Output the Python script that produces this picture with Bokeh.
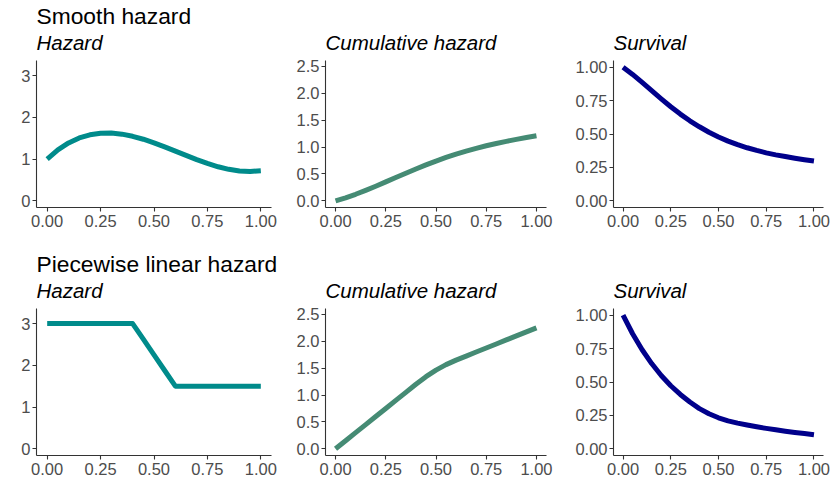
from bokeh.plotting import figure
from bokeh.layouts import row, column
from bokeh.models import Range1d, FixedTicker, Title, PrintfTickFormatter
from bokeh.embed import file_html
from bokeh.resources import INLINE

# ---- data ----
time = [0.00, 0.05, 0.10, 0.15, 0.20, 0.25, 0.30, 0.35, 0.40, 0.45, 0.50,
        0.55, 0.60, 0.65, 0.70, 0.75, 0.80, 0.85, 0.90, 0.95, 1.00]

smooth_hazard = [1.000, 1.220, 1.387, 1.506, 1.581, 1.619, 1.622, 1.596, 1.545, 1.475, 1.389,
                 1.292, 1.190, 1.087, 0.987, 0.895, 0.815, 0.754, 0.714, 0.701, 0.720]
smooth_cumhaz = [0.000, 0.056, 0.121, 0.194, 0.271, 0.351, 0.432, 0.513, 0.591, 0.667, 0.739,
                 0.806, 0.868, 0.925, 0.976, 1.023, 1.066, 1.105, 1.142, 1.177, 1.210]
smooth_survival = [1.000, 0.946, 0.886, 0.824, 0.763, 0.704, 0.649, 0.599, 0.554, 0.513, 0.478,
                   0.447, 0.420, 0.397, 0.377, 0.359, 0.344, 0.331, 0.319, 0.308, 0.298]

pw_hazard = [3.0, 3.0, 3.0, 3.0, 3.0, 3.0, 3.0, 3.0, 3.0, 2.625, 2.25,
             1.875, 1.5, 1.5, 1.5, 1.5, 1.5, 1.5, 1.5, 1.5, 1.5]
pw_cumhaz = [0.000, 0.150, 0.300, 0.450, 0.600, 0.750, 0.900, 1.050, 1.200, 1.341, 1.463,
             1.566, 1.650, 1.725, 1.800, 1.875, 1.950, 2.025, 2.100, 2.175, 2.250]
pw_survival = [1.000, 0.861, 0.741, 0.638, 0.549, 0.472, 0.407, 0.350, 0.301, 0.262, 0.232,
               0.209, 0.192, 0.178, 0.165, 0.153, 0.142, 0.132, 0.1225, 0.114, 0.105]

row_titles = ["Smooth hazard", "Piecewise linear hazard"]
panel_titles = ["Hazard", "Cumulative hazard", "Survival"]

x_ticks = [0.0, 0.25, 0.5, 0.75, 1.0]
hazard_ticks = [0, 1, 2, 3]
cumhaz_ticks = [0.0, 0.5, 1.0, 1.5, 2.0, 2.5]
surv_ticks = [0.0, 0.25, 0.5, 0.75, 1.0]

HAZ_COL = "#008B8B"
CUM_COL = "#458B74"
SURV_COL = "#00008B"
FONT = "Liberation Sans"

# column geometry: (width, border_left, border_right)
COLS = [(293, 36, 22), (275, 32, 22), (262, 45, 7)]
# row geometry: (height, border_top, border_bottom)
ROWS = [(241, 60, 34), (250, 67, 36)]


def style_axis(ax, ticks, fmt, is_y):
    ax.ticker = FixedTicker(ticks=ticks)
    ax.formatter = PrintfTickFormatter(format=fmt)
    ax.axis_line_color = "#333333"
    ax.axis_line_width = 1.1
    ax.major_tick_line_color = "#333333"
    ax.major_tick_line_width = 1.1
    ax.major_tick_out = 4
    ax.major_tick_in = 0
    ax.minor_tick_line_color = None
    ax.major_label_text_font = FONT
    ax.major_label_text_font_size = "16.5px"
    ax.major_label_text_color = "#4D4D4D"
    ax.major_label_standoff = 2 if is_y else 3


def panel(ci, ri, y, color, yrange, yticks, yfmt, title, row_title=None):
    w, bl, br = COLS[ci]
    h, bt, bb = ROWS[ri]
    p = figure(width=w, height=h, output_backend="svg", toolbar_location=None,
               x_range=Range1d(-0.05, 1.05), y_range=Range1d(*yrange),
               min_border_left=bl, min_border_right=br,
               min_border_top=bt, min_border_bottom=bb)
    p.outline_line_color = None
    p.xgrid.visible = False
    p.ygrid.visible = False
    p.background_fill_color = "white"
    p.border_fill_color = "white"
    p.line(time, y, color=color, line_width=5, line_join="round")
    style_axis(p.xaxis[0], x_ticks, "%.2f", False)
    style_axis(p.yaxis[0], yticks, yfmt, True)
    p.add_layout(Title(text=title, text_font=FONT, text_font_size="20.5px",
                       text_font_style="italic", text_color="black",
                       align="left", standoff=13), "above")
    if row_title is not None:
        p.add_layout(Title(text=row_title, text_font=FONT, text_font_size="22.8px",
                           text_font_style="normal", text_color="black",
                           align="left", standoff=-12), "above")
    return p


HAZ_RANGE = (-0.16, 3.36)
CUM_RANGE = (-0.125, 2.61)
SURV_RANGE = (-0.05, 1.05)

r1 = [
    panel(0, 0, smooth_hazard, HAZ_COL, HAZ_RANGE, hazard_ticks, "%d", panel_titles[0], row_titles[0]),
    panel(1, 0, smooth_cumhaz, CUM_COL, CUM_RANGE, cumhaz_ticks, "%.1f", panel_titles[1]),
    panel(2, 0, smooth_survival, SURV_COL, SURV_RANGE, surv_ticks, "%.2f", panel_titles[2]),
]
r2 = [
    panel(0, 1, pw_hazard, HAZ_COL, HAZ_RANGE, hazard_ticks, "%d", panel_titles[0], row_titles[1]),
    panel(1, 1, pw_cumhaz, CUM_COL, CUM_RANGE, cumhaz_ticks, "%.1f", panel_titles[1]),
    panel(2, 1, pw_survival, SURV_COL, SURV_RANGE, surv_ticks, "%.2f", panel_titles[2]),
]

layout = column(row(*r1, spacing=0), row(*r2, spacing=0), spacing=0)

open("out.html", "w").write(file_html(layout, INLINE))
